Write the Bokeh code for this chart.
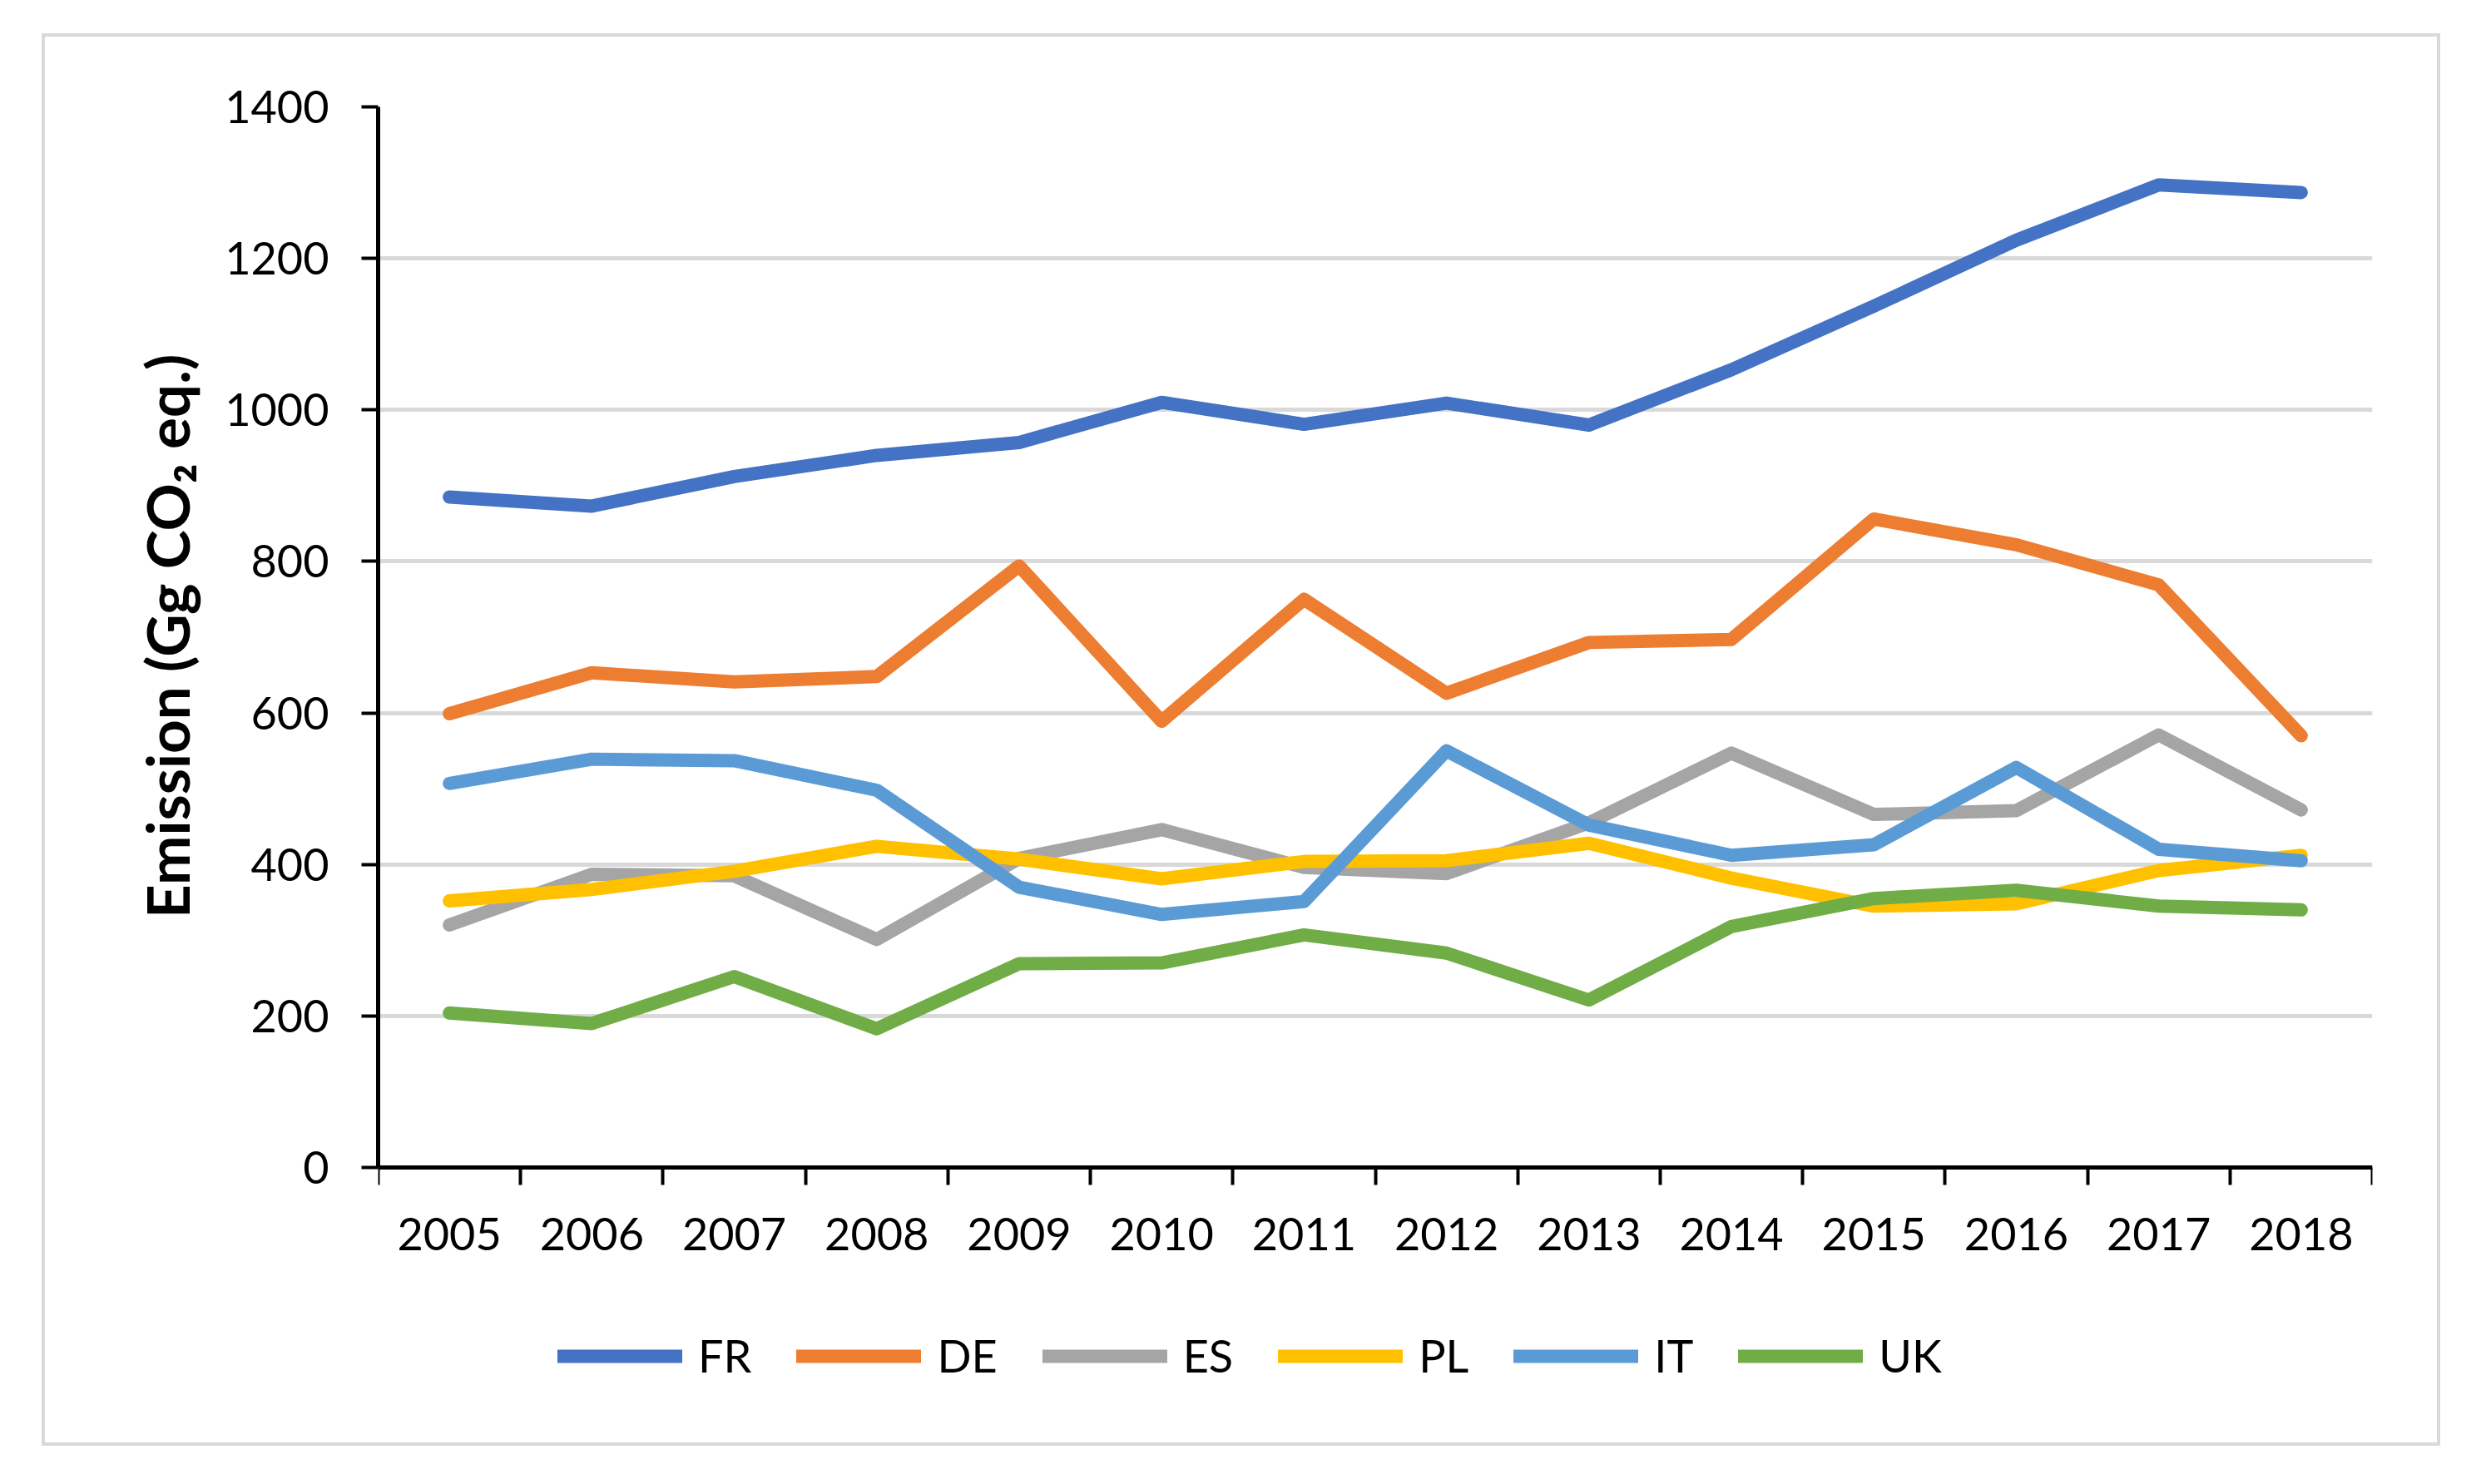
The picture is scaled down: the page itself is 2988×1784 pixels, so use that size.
from bokeh.plotting import figure
from bokeh.models import Range1d, FixedTicker, Legend, LegendItem, Title
from bokeh.embed import file_html
from bokeh.resources import INLINE

years = [2005, 2006, 2007, 2008, 2009, 2010, 2011, 2012, 2013, 2014, 2015, 2016, 2017, 2018]
year_labels = [str(y) for y in years]
y_ticks = [0, 200, 400, 600, 800, 1000, 1200, 1400]

fr = [885, 873, 912, 940, 957, 1010, 981, 1009, 980, 1053, 1137, 1224, 1297, 1287]
de = [599, 653, 641, 648, 794, 589, 750, 626, 693, 697, 856, 822, 769, 570]
es = [320, 387, 385, 301, 408, 446, 396, 388, 455, 547, 466, 471, 571, 472]
pl = [352, 367, 391, 424, 407, 381, 404, 405, 428, 382, 345, 348, 392, 412]
it = [507, 539, 537, 498, 370, 334, 351, 550, 452, 412, 426, 528, 420, 405]
uk = [204, 190, 252, 183, 269, 270, 307, 283, 221, 318, 355, 366, 345, 340]

series = [("FR", fr, "#4472C4"), ("DE", de, "#ED7D31"), ("ES", es, "#A5A5A5"),
          ("PL", pl, "#FFC000"), ("IT", it, "#5B9BD5"), ("UK", uk, "#70AD47")]

FONT = "Lato"

# frame runs from canvas y=84 (1400) down to y=1678; the value 0 sits at y=1359,
# the space below it holds the x axis labels and the legend
y_bottom = -(1678 - 1359) * 1400 / 1275

p = figure(width=2883, height=1698, output_backend="svg", toolbar_location=None,
           x_range=Range1d(years[0] - 0.5, years[-1] + 0.5), y_range=Range1d(y_bottom, 1400),
           min_border_left=400, min_border_top=84, min_border_right=86, min_border_bottom=20,
           styles={"border": "4px solid #d9d9d9", "margin": "40px 0 0 50px"})
p.outline_line_color = None
p.xgrid.visible = False
p.ygrid.grid_line_color = "#d9d9d9"
p.ygrid.grid_line_width = 5

# y axis
p.yaxis.ticker = FixedTicker(ticks=y_ticks)
p.yaxis.bounds = (0, 1400)
p.yaxis.axis_line_width = 5
p.yaxis.major_tick_out = 20
p.yaxis.major_tick_in = 0
p.yaxis.major_tick_line_width = 4
p.yaxis.minor_tick_line_color = None
p.yaxis.major_label_text_font = FONT
p.yaxis.major_label_text_font_size = "54px"
p.yaxis.major_label_text_color = "black"
p.yaxis.major_label_standoff = 39

# axis title, centred on the 0-1400 part of the frame
p.add_layout(Title(text="Emission (Gg CO\u2082 eq.)", align="right", offset=297, standoff=50,
                   text_font=FONT, text_font_style="bold", text_font_size="71px",
                   text_color="black"), "left")

# x axis at y=0: labels at category centres, ticks between categories
p.xaxis.fixed_location = 0
p.xaxis.ticker = FixedTicker(ticks=years, minor_ticks=[y - 0.5 for y in years] + [years[-1] + 0.5])
p.xaxis.major_label_overrides = {y: lab for y, lab in zip(years, year_labels)}
p.xaxis.axis_line_width = 5
p.xaxis.major_tick_out = 0
p.xaxis.major_tick_in = 0
p.xaxis.minor_tick_out = 21
p.xaxis.minor_tick_in = 0
p.xaxis.minor_tick_line_color = "black"
p.xaxis.minor_tick_line_width = 4
p.xaxis.major_label_text_font = FONT
p.xaxis.major_label_text_font_size = "54px"
p.xaxis.major_label_text_color = "black"
p.xaxis.major_label_standoff = 39

items = []
for name, vals, color in series:
    r = p.line(years, vals, line_color=color, line_width=16, line_cap="round", line_join="round")
    items.append(LegendItem(label=name, renderers=[r]))

legend = Legend(items=items, orientation="horizontal", location=(216, 60))
legend.border_line_color = None
legend.background_fill_alpha = 0
legend.label_text_font = FONT
legend.label_text_font_size = "54px"
legend.label_text_color = "black"
legend.glyph_width = 150
legend.glyph_height = 60
legend.label_height = 60
legend.label_standoff = 19
legend.spacing = 54
legend.padding = 0
legend.margin = 0
p.add_layout(legend)

open("out.html", "w").write(file_html(p, INLINE))
